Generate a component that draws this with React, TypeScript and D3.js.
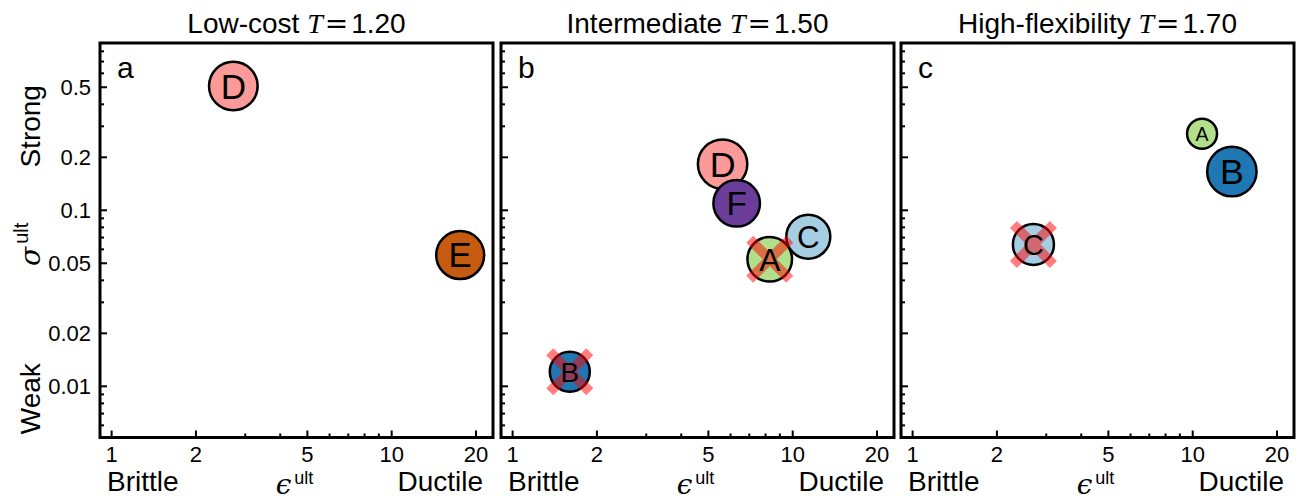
import React from 'react';
import * as d3 from 'd3';

const W = 1306;
const H = 499;

// panels
const titles = ['Low-cost', 'Intermediate', 'High-flexibility'];
const temps = ['1.20', '1.50', '1.70'];
const panelTags = ['a', 'b', 'c'];

// materials
const names = ['A', 'B', 'C', 'D', 'E', 'F'];
const colors = ['#b2df8a', '#1f78b4', '#a6cee3', '#fb9a99', '#c55a11', '#6a3d9a'];

// points (draw order matters for overlaps)
const ptPanel = [0, 0, 1, 1, 1, 1, 1, 2, 2, 2];
const ptName = ['D', 'E', 'D', 'F', 'C', 'A', 'B', 'A', 'B', 'C'];
const ptEps = [2.72, 17.56, 5.62, 6.31, 11.37, 8.28, 1.6, 10.8, 13.8, 2.7];
const ptSigma = [0.508, 0.0557, 0.183, 0.1096, 0.0708, 0.0527, 0.0121, 0.272, 0.166, 0.064];
const ptSize = [24.3, 24, 24.7, 23.3, 22, 22.3, 20, 15, 24.7, 20.5];
const ptFailed = [false, false, false, false, false, true, true, false, false, true];

const xMajor = [1, 2, 5, 10, 20];
const xMajorLabels = ['1', '2', '5', '10', '20'];
const yMajor = [0.01, 0.02, 0.05, 0.1, 0.2, 0.5];
const yMajorLabels = ['0.01', '0.02', '0.05', '0.1', '0.2', '0.5'];

const SANS = '"Liberation Sans", Arial, Helvetica, sans-serif';
const SERIF = '"DejaVu Serif", "Liberation Serif", serif';

const panelLeft = [100, 501, 901];
const top = 43;
const pw = 393;
const ph = 394.5;

const xScale = d3.scaleLog().domain([0.909, 23.0]).range([0, pw]);
const yScale = d3.scaleLog().domain([0.00512, 0.892]).range([ph, 0]);
const rScale = d3.scaleLinear().domain([0, 25]).range([0, 25]);
const colorOf = d3.scaleOrdinal<string, string>().domain(names).range(colors);

const near = (v: number, arr: number[]) => arr.some(a => Math.abs(a - v) / a < 1e-6);
const xMinor = xScale.ticks().filter(t => !near(t, xMajor));
const yMinor = yScale.ticks().filter(t => !near(t, yMajor));

function Panel({ idx }: { idx: number }) {
  const pts = d3.range(ptName.length).filter(i => ptPanel[i] === idx);
  const cx = pw / 2;
  return (
    <g transform={`translate(${panelLeft[idx]},${top})`}>
      <text x={cx} y={-10} textAnchor="middle" fontFamily={SANS} fontSize={28}>
        {titles[idx]}{' '}
        <tspan fontFamily='"Liberation Serif", serif' fontStyle="italic">T</tspan>
        <tspan fontFamily={SERIF} dx={2}>=</tspan>
        <tspan dx={3}>{temps[idx]}</tspan>
      </text>
      <text x={17} y={35} fontFamily={SANS} fontSize={30}>{panelTags[idx]}</text>

      {xMinor.map(t => (
        <line key={'xm' + t} x1={xScale(t)} x2={xScale(t)} y1={ph} y2={ph - 4} stroke="#000" strokeWidth={2} />
      ))}
      {xMajor.map((t, i) => (
        <g key={'xM' + t}>
          <line x1={xScale(t)} x2={xScale(t)} y1={ph} y2={ph - 7} stroke="#000" strokeWidth={2} />
          <text x={xScale(t)} y={ph + 24.5} textAnchor="middle" fontFamily={SANS} fontSize={22}>{xMajorLabels[i]}</text>
        </g>
      ))}
      {yMinor.map(t => (
        <line key={'ym' + t} x1={0} x2={4} y1={yScale(t)} y2={yScale(t)} stroke="#000" strokeWidth={2} />
      ))}
      {yMajor.map((t, i) => (
        <g key={'yM' + t}>
          <line x1={0} x2={7} y1={yScale(t)} y2={yScale(t)} stroke="#000" strokeWidth={2} />
          {idx === 0 && (
            <text x={-9} y={yScale(t) + 8} textAnchor="end" fontFamily={SANS} fontSize={22}>{yMajorLabels[i]}</text>
          )}
        </g>
      ))}

      {pts.map(i => (
        <circle key={'c' + i} cx={xScale(ptEps[i])} cy={yScale(ptSigma[i])} r={rScale(ptSize[i])}
          fill={colorOf(ptName[i])} stroke="#000" strokeWidth={2.5} />
      ))}
      {pts.filter(i => ptFailed[i]).map(i => {
        const x = xScale(ptEps[i]);
        const y = yScale(ptSigma[i]);
        const h = 20;
        return (
          <path key={'x' + i} d={`M${x - h},${y - h}L${x + h},${y + h}M${x - h},${y + h}L${x + h},${y - h}`}
            fill="none" stroke="rgba(255,0,0,0.5)" strokeWidth={10} />
        );
      })}
      {pts.map(i => {
        const r = rScale(ptSize[i]);
        const cap = 1.2 * r - 4;
        return (
          <text key={'t' + i} x={xScale(ptEps[i])} y={yScale(ptSigma[i]) + cap / 2} textAnchor="middle"
            fontFamily={SANS} fontSize={cap / 0.716}>{ptName[i]}</text>
        );
      })}

      <rect x={0} y={0} width={pw} height={ph} fill="none" stroke="#000" strokeWidth={3} />

      <text x={7} y={ph + 53} fontFamily={SANS} fontSize={28}>Brittle</text>
      <text x={pw - 10} y={ph + 53} textAnchor="end" fontFamily={SANS} fontSize={28}>Ductile</text>
      <text x={cx - 2} y={ph + 56} textAnchor="middle" fontFamily={SANS} fontSize={28}>
        <tspan fontFamily={SERIF} fontStyle="italic">ϵ</tspan>
        <tspan dx={3} dy={-10} fontSize={18}>ult</tspan>
      </text>
    </g>
  );
}

export default function App() {
  const midY = top + ph / 2 + 4;
  return (
    <div style={{ position: 'absolute', left: 0, top: 0 }}>
      <svg width={W} height={H} style={{ display: 'block', background: '#fff' }}>
        <text transform={`translate(40,${top + yScale(0.3)}) rotate(-90)`} textAnchor="middle" fontFamily={SANS} fontSize={28}>Strong</text>
        <text transform={`translate(40,${top + yScale(0.0085)}) rotate(-90)`} textAnchor="middle" fontFamily={SANS} fontSize={28}>Weak</text>
        <text transform={`translate(40,${midY}) rotate(-90)`} textAnchor="middle" fontFamily={SANS} fontSize={28}>
          <tspan fontFamily={SERIF} fontStyle="italic">σ</tspan>
          <tspan dx={3} dy={-12} fontSize={20}>ult</tspan>
        </text>
        {[0, 1, 2].map(i => <Panel key={i} idx={i} />)}
      </svg>
    </div>
  );
}
